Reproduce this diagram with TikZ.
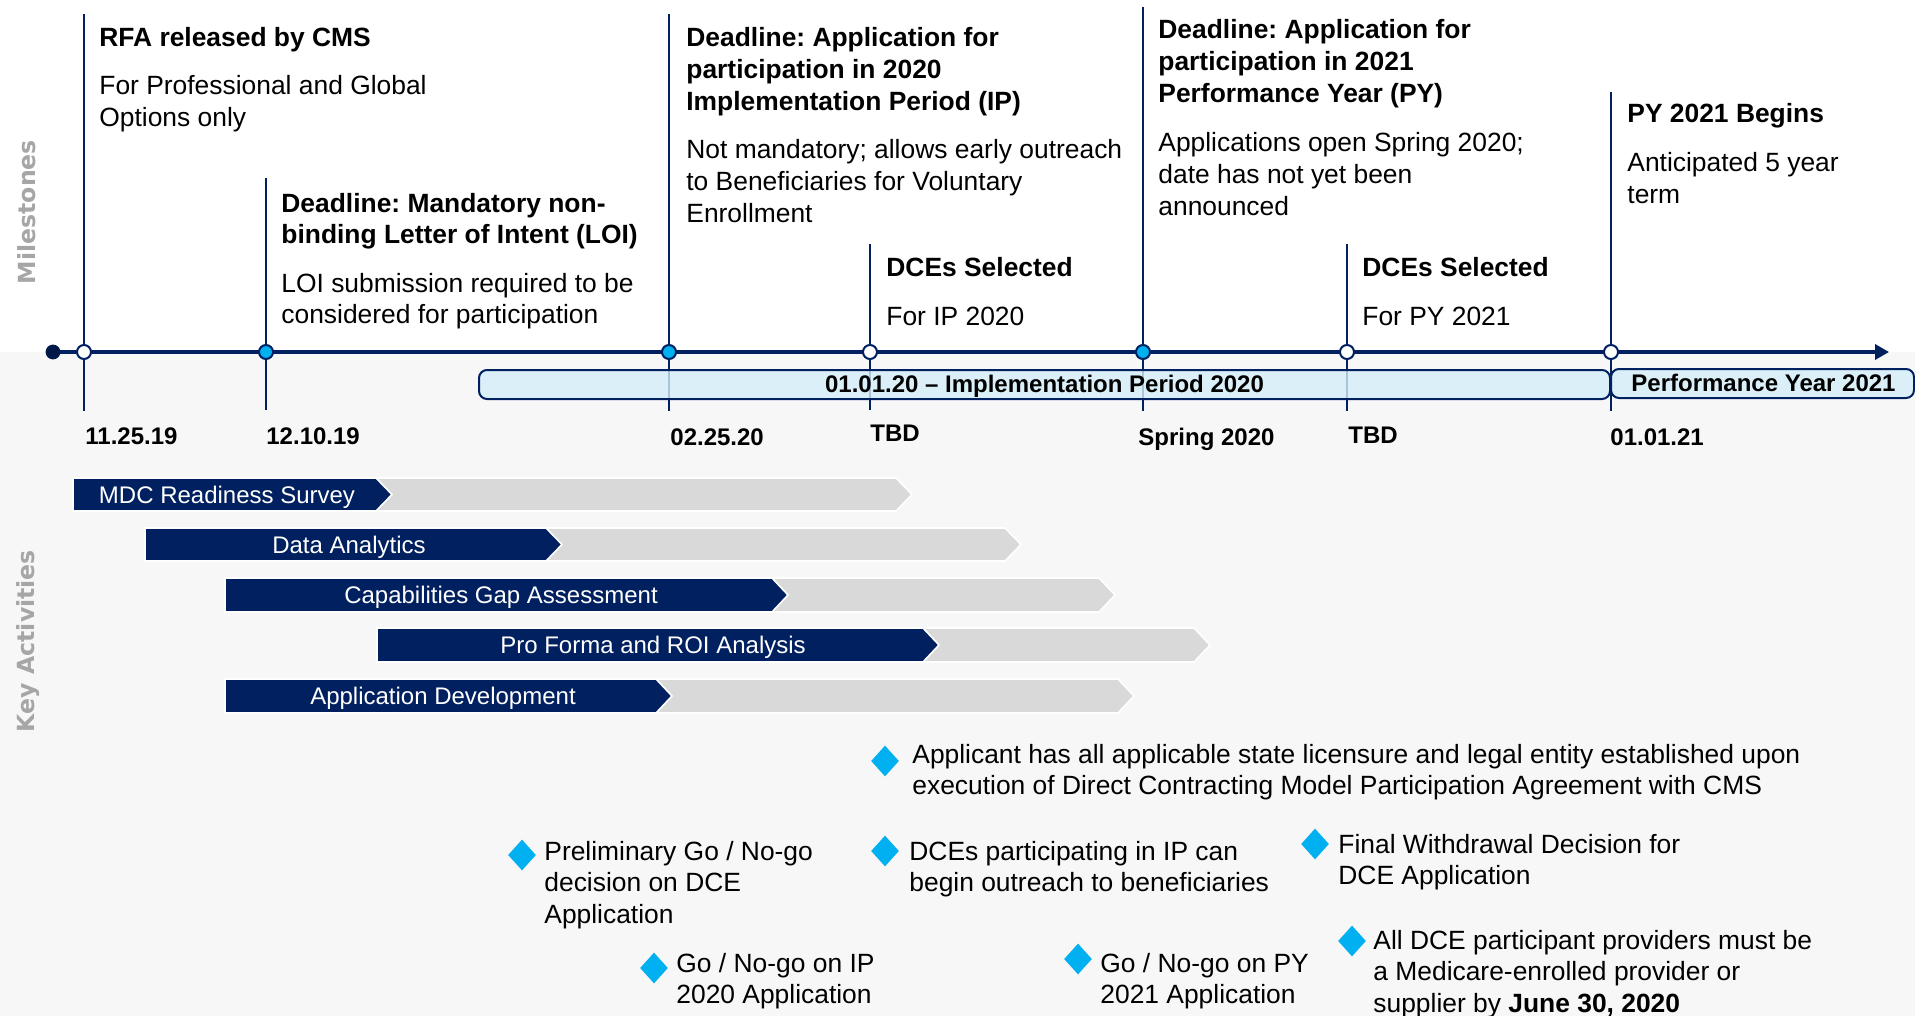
\documentclass[tikz,border=0pt]{standalone}
\usepackage{fontspec}
\setmainfont{Liberation Sans}
\newfontfamily\sidefont{DejaVu Sans}
\usetikzlibrary{arrows.meta,shapes.geometric}
\definecolor{navy}{HTML}{002060}
\definecolor{cyanb}{HTML}{00B0F0}
\definecolor{barblue}{HTML}{D5EEF9}
\definecolor{actgray}{HTML}{D9D9D9}
\definecolor{bggray}{HTML}{F7F7F7}
\definecolor{sidegray}{HTML}{A6A6A6}
\frenchspacing
\begin{document}
\begin{tikzpicture}[x=0.5pt,y=-0.5pt,
  title/.style={anchor=base west, inner sep=0, font=\fontsize{13.2}{15.8}\selectfont\bfseries\frenchspacing, align=left},
  desc/.style={anchor=base west, inner sep=0, font=\fontsize{13.2}{15.8}\selectfont\frenchspacing, align=left},
  datelbl/.style={anchor=base west, inner sep=0, font=\fontsize{12}{14}\selectfont\bfseries},
  vline/.style={draw=navy, line width=1.1pt},
  opendot/.style={circle, draw=navy, fill=white, line width=1pt, minimum size=7pt, inner sep=0},
  fulldot/.style={circle, draw=navy, fill=cyanb, line width=1pt, minimum size=7pt, inner sep=0},
  startdot/.style={circle, fill=navy!75!black, draw=navy!75!black, minimum size=7pt, inner sep=0},
  periodbar/.style={draw=navy, fill=barblue, fill opacity=0.8, line width=1pt, rounded corners=4pt, inner sep=0, minimum height=14.5pt},
  barlbl/.style={inner sep=0, anchor=base, font=\fontsize{12}{14}\selectfont\bfseries},
  navych/.style={fill=navy, draw=white, line width=0.8pt},
  graych/.style={fill=actgray, draw=white, line width=0.8pt},
  actlbl/.style={anchor=base, inner sep=0, text=white, font=\fontsize{12}{14}\selectfont},
  gem/.style={diamond, fill=cyanb, minimum width=14pt, minimum height=15.5pt, inner sep=0},
  sidelbl/.style={rotate=90, inner sep=0, text=sidegray, font=\fontsize{11.8}{14}\sidefont\bfseries}
]
\useasboundingbox (0,0) rectangle (1915,1016);
\fill[white] (0,0) rectangle (1915,352);
\fill[bggray] (0,352) rectangle (1915,1016);

% side labels
\node[sidelbl] (milestones) at (27,212) {Milestones};
\node[sidelbl] (keyact) at (28,641) {Key Activities};

% vertical milestone lines
\coordinate (t1) at (84,14);   \coordinate (b1) at (84,411);
\coordinate (t2) at (266,178); \coordinate (b2) at (266,410);
\coordinate (t3) at (669,14);  \coordinate (b3) at (669,411);
\coordinate (t4) at (870,244); \coordinate (b4) at (870,410);
\coordinate (t5) at (1143,7);  \coordinate (b5) at (1143,411);
\coordinate (t6) at (1347,244);\coordinate (b6) at (1347,411);
\coordinate (t7) at (1611,92); \coordinate (b7) at (1611,411);
\foreach \i in {1,...,7} {\draw[vline] (t\i) -- (b\i);}

% period bars
\node[periodbar, minimum width=565.5pt] (ipbar) at (1044.5,384.5) {};
\node[barlbl] (iplbl) at (1044.5,392.5) {01.01.20 -- Implementation Period 2020};
\node[periodbar, minimum width=151.5pt] (pybar) at (1762.5,383.5) {};
\node[barlbl] (pylbl) at (1763.5,391.5) {Performance Year 2021};

% axis
\node[startdot] (start) at (53,352) {};
\coordinate (axend) at (1889,352);
\draw[navy, line width=2.4pt, -{Triangle[length=7pt,width=7.5pt]}] (start) -- (axend);

\node[opendot] (d1) at (84,352) {};
\node[fulldot] (d2) at (266,352) {};
\node[fulldot] (d3) at (669,352) {};
\node[opendot] (d4) at (870,352) {};
\node[fulldot] (d5) at (1143,352) {};
\node[opendot] (d6) at (1347,352) {};
\node[opendot] (d7) at (1611,352) {};

% dates
\node[datelbl] (dt1) at (85,444) {11.25.19};
\node[datelbl] (dt2) at (266,444) {12.10.19};
\node[datelbl] (dt3) at (670,445) {02.25.20};
\node[datelbl] (dt4) at (870,441) {TBD};
\node[datelbl] (dt5) at (1138,445) {Spring 2020};
\node[datelbl] (dt6) at (1348,443) {TBD};
\node[datelbl] (dt7) at (1610,445) {01.01.21};

% milestone texts (anchor = baseline of last line)
\node[title] (rfa) at (99,47) {RFA released by CMS};
\node[desc] (rfad) at (99,126.6) {For Professional and Global\\Options only};
\node[title] (loi) at (281,243.6) {Deadline: Mandatory non-\\binding Letter of Intent (LOI)};
\node[desc] (loid) at (281,323.6) {LOI submission required to be\\considered for participation};
\node[title] (ip) at (686,110.2) {Deadline: Application for\\participation in 2020\\Implementation Period (IP)};
\node[desc] (ipd) at (686,222.2) {Not mandatory; allows early outreach\\to Beneficiaries for Voluntary\\Enrollment};
\node[title] (dceip) at (886,277) {DCEs Selected};
\node[desc] (dceipd) at (886,325) {For IP 2020};
\node[title] (py) at (1158,102.2) {Deadline: Application for\\participation in 2021\\Performance Year (PY)};
\node[desc] (pyd) at (1158,215.2) {Applications open Spring 2020;\\date has not yet been\\announced};
\node[title] (dcepy) at (1362,277) {DCEs Selected};
\node[desc] (dcepyd) at (1362,325) {For PY 2021};
\node[title] (pyb) at (1627,123) {PY 2021 Begins};
\node[desc] (pybd) at (1627,203.6) {Anticipated 5 year\\term};

% activity chevrons
\fill[graych] (376,478) -- (896,478) -- (912,494.5) -- (896,511) -- (376,511) -- cycle;
\fill[navych] (73,478) -- (376,478) -- (392,494.5) -- (376,511) -- (73,511) -- cycle;
\node[actlbl] (a1) at (227,503) {MDC Readiness Survey};

\fill[graych] (546,528) -- (1005,528) -- (1021,544.5) -- (1005,561) -- (546,561) -- cycle;
\fill[navych] (145,528) -- (546,528) -- (562,544.5) -- (546,561) -- (145,561) -- cycle;
\node[actlbl] (a2) at (349,553) {Data Analytics};

\fill[graych] (772,578) -- (1099,578) -- (1115,595) -- (1099,612) -- (772,612) -- cycle;
\fill[navych] (225,578) -- (772,578) -- (788,595) -- (772,612) -- (225,612) -- cycle;
\node[actlbl] (a3) at (501,603) {Capabilities Gap Assessment};

\fill[graych] (923,628) -- (1194,628) -- (1210,645) -- (1194,662) -- (923,662) -- cycle;
\fill[navych] (377,628) -- (923,628) -- (939,645) -- (923,662) -- (377,662) -- cycle;
\node[actlbl] (a4) at (653,653) {Pro Forma and ROI Analysis};

\fill[graych] (656,679) -- (1118,679) -- (1134,696) -- (1118,713) -- (656,713) -- cycle;
\fill[navych] (225,679) -- (656,679) -- (672,696) -- (656,713) -- (225,713) -- cycle;
\node[actlbl] (a5) at (443,704) {Application Development};

% bottom notes
\node[gem] (g1) at (885,761) {};
\node[desc] (n1) at (912,794.6) {Applicant has all applicable state licensure and legal entity established upon\\execution of Direct Contracting Model Participation Agreement with CMS};
\node[gem] (g2) at (522,855) {};
\node[desc] (n2) at (544,923.2) {Preliminary Go / No-go\\decision on DCE\\Application};
\node[gem] (g3) at (885,851) {};
\node[desc] (n3) at (909,891.6) {DCEs participating in IP can\\begin outreach to beneficiaries};
\node[gem] (g4) at (654,968) {};
\node[desc] (n4) at (676,1003.6) {Go / No-go on IP\\2020 Application};
\node[gem] (g5) at (1078,959) {};
\node[desc] (n5) at (1100,1003.6) {Go / No-go on PY\\2021 Application};
\node[gem] (g6) at (1315,844) {};
\node[desc] (n6) at (1338,884.6) {Final Withdrawal Decision for\\DCE Application};
\node[gem] (g7) at (1352,941) {};
\node[desc] (n7) at (1373,1012.2) {All DCE participant providers must be\\a Medicare-enrolled provider or\\supplier by \textbf{June 30, 2020}};
\end{tikzpicture}
\end{document}
